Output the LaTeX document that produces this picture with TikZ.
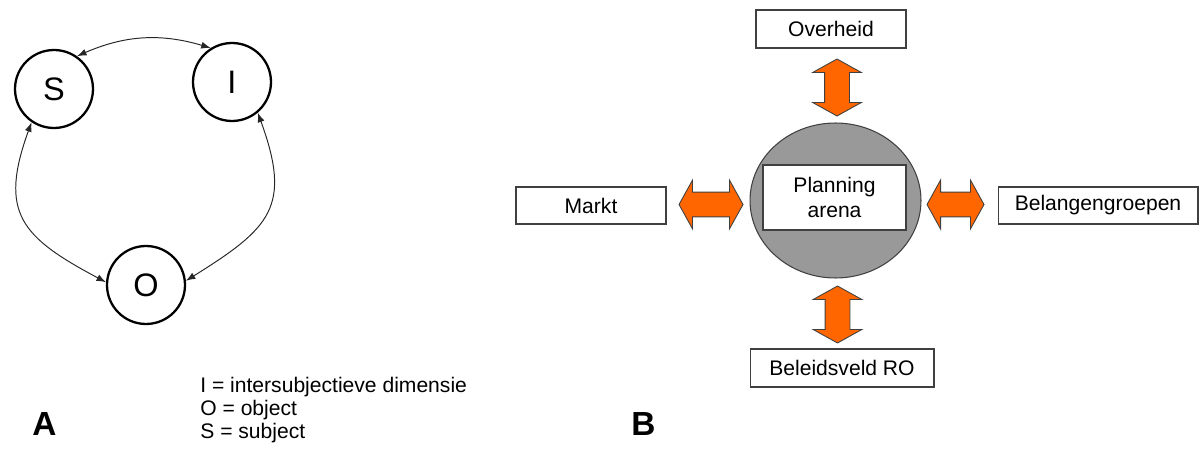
\documentclass[tikz,border=0pt]{standalone}
\usepackage{fontspec}
\setmainfont{Liberation Sans}
\usepackage{xcolor}
\usepackage{tikz}
\usetikzlibrary{arrows.meta,shapes.geometric,shapes.arrows}
\definecolor{oranje}{HTML}{FF6600}
\definecolor{grijs}{HTML}{999999}
\definecolor{rand}{HTML}{404040}

\begin{document}
\begin{tikzpicture}[x=0.02cm,y=0.02cm,
    cirkel/.style={circle, draw, line width=1.3pt, minimum size=1.56cm, inner sep=0, font=\fontsize{18.5}{18.5}\selectfont},
    pijl/.style={{Latex[length=1.9mm,width=1.4mm]}-{Latex[length=1.9mm,width=1.4mm]}, line width=0.55pt, black!85},
    vak/.style={draw=rand, fill=white, line width=0.6pt, minimum height=0.76cm, inner sep=0, font=\fontsize{12}{14.7}\selectfont},
    blokpijl/.style={double arrow, draw=rand, fill=oranje, line width=0.5pt, inner xsep=0, inner ysep=0.24cm, double arrow head extend=0.24cm, double arrow tip angle=122}]
    \useasboundingbox (0,0) rectangle (1203,450);
    % Deel A: subject, intersubjectief, object
    \node[cirkel] (S) at (54,361) {S};
    \node[cirkel] (I) at (232,368) {I};
    \node[cirkel] (O) at (146,165) {O};
    \draw[pijl] (S.55) to[bend left=20] (I.122);
    \draw[pijl] (S.236) to[out=250,in=152,looseness=1.4] (O.176);
    \draw[pijl] (I.310) to[out=290,in=32,looseness=1.4] (O.6);
    \node[anchor=north west, align=left, inner sep=0, font=\fontsize{12}{13}\selectfont] (legenda) at (200,73)
    {I = intersubjectieve dimensie\\O = object\\S = subject};
    \node[anchor=base west, inner sep=0, font=\fontsize{19}{19}\selectfont\bfseries] (A) at (32,15) {A};
    % Deel B: de planning arena
    \node[ellipse, draw=rand, fill=grijs, line width=0.6pt, minimum width=3.42cm, minimum height=3.1cm] (arenarand) at (835.5,249.5) {};
    \node[vak, minimum width=2.86cm, minimum height=1.3cm, align=center] (arena) at (834.5,252.5) {Planning\\arena};
    \node[vak, minimum width=3cm] (overheid) at (831,421) {Overheid};
    \node[vak, minimum width=3cm, minimum height=0.74cm] (markt) at (591,244.5) {Markt};
    \node[vak, minimum width=4cm, minimum height=0.74cm] (belang) at (1098,244.5) {Belangengroepen};
    \node[vak, minimum width=3.68cm] (beleid) at (842,82) {Beleidsveld RO};
    % Oranje pijlen
    \node[blokpijl, rotate=90, minimum height=1.14cm] (pboven) at (837,362.5) {};
    \node[blokpijl, rotate=90, minimum height=1.14cm] (ponder) at (837.5,135.5) {};
    \node[blokpijl, minimum height=1.28cm] (plinks) at (711,245.5) {};
    \node[blokpijl, minimum height=1.14cm] (prechts) at (955.5,245.5) {};
    \node[anchor=base west, inner sep=0, font=\fontsize{19}{19}\selectfont\bfseries] (B) at (631,15) {B};
\end{tikzpicture}
\end{document}
